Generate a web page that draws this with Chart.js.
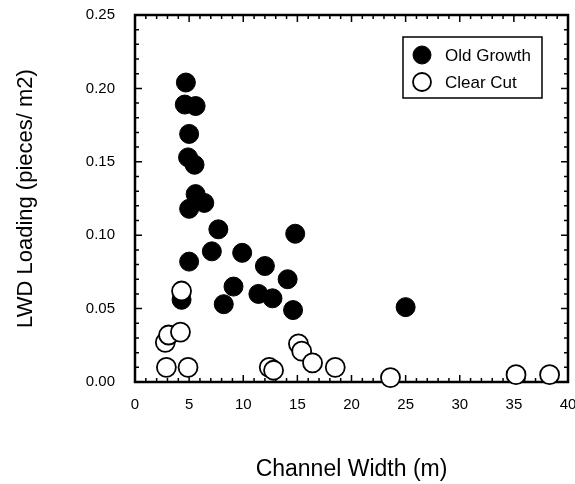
<!DOCTYPE html>
<html>
<head>
<meta charset="utf-8">
<script src="https://cdn.jsdelivr.net/npm/chart.js@4.4.1/dist/chart.umd.min.js"></script>
<style>
  html, body { margin: 0; padding: 0; background: #fff; }
  #wrap { width: 575px; height: 484px; }
</style>
</head>
<body>
<div id="wrap"><canvas id="chart" width="575" height="484"></canvas></div>
<script>
// values
const oldGrowthX = [4.7, 4.6, 5.6, 5.0, 4.9, 5.5, 5.6, 5.0, 6.4, 7.7, 7.1, 5.0, 9.9, 4.3, 9.1, 8.2, 12.0, 11.4, 12.7, 14.8, 14.1, 14.6, 25.0];
const oldGrowthY = [0.204, 0.189, 0.188, 0.169, 0.153, 0.148, 0.128, 0.118, 0.122, 0.104, 0.089, 0.082, 0.088, 0.056, 0.065, 0.053, 0.079, 0.060, 0.057, 0.101, 0.070, 0.049, 0.051];
const clearCutX = [4.3, 2.8, 3.1, 4.2, 2.9, 4.9, 12.4, 12.8, 15.1, 15.4, 16.4, 18.5, 23.6, 35.2, 38.3];
const clearCutY = [0.062, 0.027, 0.032, 0.034, 0.010, 0.010, 0.010, 0.008, 0.026, 0.021, 0.013, 0.010, 0.003, 0.005, 0.005];
const xTicks = [0, 5, 10, 15, 20, 25, 30, 35, 40];
const yTicks = [0, 0.05, 0.10, 0.15, 0.20, 0.25];

const FONT = '"Liberation Sans", Arial, Helvetica, sans-serif';
const toPoints = (xs, ys) => xs.map((x, i) => ({ x: x, y: ys[i] }));

// box + inward ticks on all four sides, drawn before the points
const frame = {
  id: 'frame',
  beforeDatasetsDraw(chart) {
    const { ctx, chartArea: a, scales: { x, y } } = chart;
    ctx.save();
    ctx.strokeStyle = '#000';
    ctx.lineWidth = 1.5;
    ctx.beginPath();
    for (let v = 0; v <= 40; v++) {
      const px = x.getPixelForValue(v);
      const len = v % 5 === 0 ? 7 : 4;
      ctx.moveTo(px, a.bottom); ctx.lineTo(px, a.bottom - len);
      ctx.moveTo(px, a.top); ctx.lineTo(px, a.top + len);
    }
    for (let i = 0; i <= 25; i++) {
      const py = y.getPixelForValue(i / 100);
      const len = i % 5 === 0 ? 7 : 4;
      ctx.moveTo(a.left, py); ctx.lineTo(a.left + len, py);
      ctx.moveTo(a.right, py); ctx.lineTo(a.right - len, py);
    }
    ctx.stroke();
    ctx.lineWidth = 2.5;
    ctx.strokeRect(a.left, a.top, a.right - a.left, a.bottom - a.top);
    ctx.restore();
  },
  afterDraw(chart) {
    // legend box in the top right corner
    const { ctx } = chart;
    const sets = chart.data.datasets;
    const order = [1, 0];
    ctx.save();
    ctx.lineWidth = 1.5;
    ctx.strokeStyle = '#000';
    ctx.strokeRect(403, 37, 139, 61);
    ctx.font = '17px ' + FONT;
    ctx.textBaseline = 'middle';
    order.forEach((k, row) => {
      const ds = sets[k];
      const cy = 55 + row * 27;
      ctx.beginPath();
      ctx.arc(422, cy, 9, 0, Math.PI * 2);
      ctx.fillStyle = ds.backgroundColor;
      ctx.fill();
      ctx.lineWidth = ds.borderWidth;
      ctx.stroke();
      ctx.fillStyle = '#000';
      ctx.fillText(ds.label, 445, cy + 1);
    });
    ctx.restore();
  }
};

new Chart(document.getElementById('chart'), {
  type: 'scatter',
  data: {
    datasets: [
      {
        label: 'Clear Cut',
        data: toPoints(clearCutX, clearCutY),
        backgroundColor: '#fff',
        borderColor: '#000',
        borderWidth: 1.8,
        pointRadius: 9.5,
        order: 0,
        clip: false,
      },
      {
        label: 'Old Growth',
        data: toPoints(oldGrowthX, oldGrowthY),
        backgroundColor: '#000',
        borderColor: '#000',
        borderWidth: 1,
        pointRadius: 9.5,
        order: 1,
        clip: false,
      },
    ],
  },
  options: {
    responsive: false,
    animation: false,
    events: [],
    layout: { autoPadding: false, padding: { left: 0, right: 7, top: 15, bottom: 0 } },
    plugins: { legend: { display: false }, tooltip: { enabled: false } },
    scales: {
      x: {
        type: 'linear',
        min: 0,
        max: 40,
        afterFit: (s) => { s.height = 102; s.paddingLeft = 0; s.paddingRight = 0; },
        afterBuildTicks: (s) => { s.ticks = xTicks.map((v) => ({ value: v })); },
        grid: { display: false },
        border: { display: false },
        ticks: { color: '#000', font: { family: FONT, size: 15 }, padding: 6, maxRotation: 0 },
        title: { display: true, text: 'Channel Width (m)', color: '#000', font: { family: FONT, size: 23 }, padding: { top: 0, bottom: 1 } },
      },
      y: {
        type: 'linear',
        min: 0,
        max: 0.25,
        afterFit: (s) => { s.width = 135; s.paddingTop = 0; s.paddingBottom = 0; },
        afterBuildTicks: (s) => { s.ticks = yTicks.map((v) => ({ value: v })); },
        grid: { display: false },
        border: { display: false },
        ticks: { color: '#000', font: { family: FONT, size: 15 }, padding: 12, callback: (v) => v.toFixed(2) },
        title: { display: true, text: 'LWD Loading (pieces/ m2)', color: '#000', font: { family: FONT, size: 22 }, padding: { top: 13, bottom: 0 } },
      },
    },
  },
  plugins: [frame],
});
</script>
</body>
</html>
